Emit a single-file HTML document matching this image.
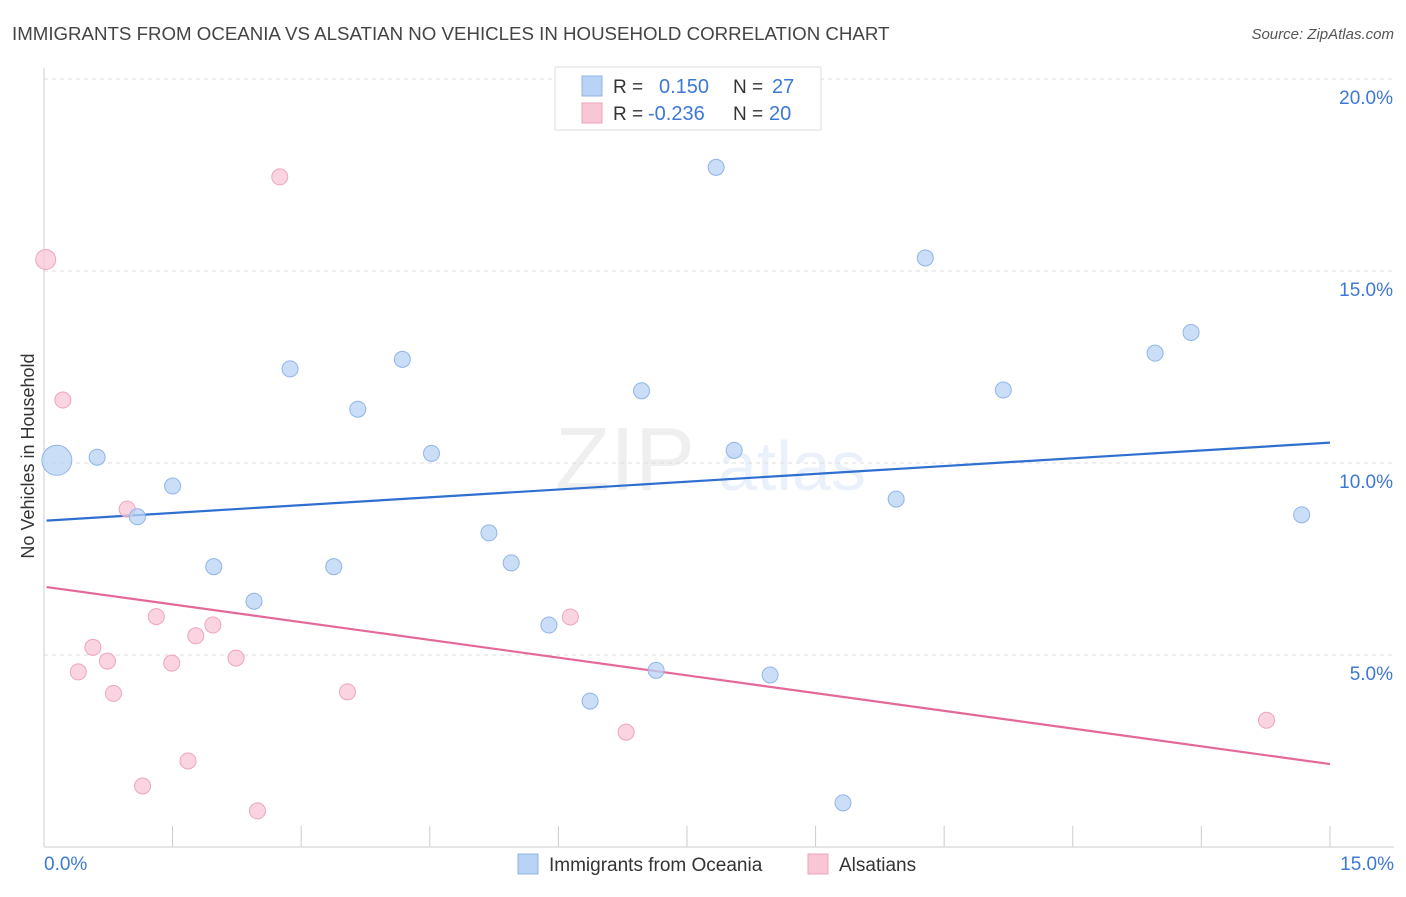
<!DOCTYPE html>
<html><head><meta charset="utf-8"><style>
body{margin:0;background:#fff;font-family:"Liberation Sans",sans-serif;}
svg text{font-family:"Liberation Sans",sans-serif;}
</style></head><body>
<svg id="chart" width="1406" height="892" viewBox="0 0 1406 892" xmlns="http://www.w3.org/2000/svg">
<text x="12" y="40" font-size="18.7" fill="#444">IMMIGRANTS FROM OCEANIA VS ALSATIAN NO VEHICLES IN HOUSEHOLD CORRELATION CHART</text>
<text x="1394" y="39" font-size="15" fill="#555" text-anchor="end" font-style="italic">Source: ZipAtlas.com</text>
<g opacity="0.13">
<text x="555" y="490" font-size="90" fill="#888" font-family="Liberation Serif">ZIP</text>
<text x="718" y="490" font-size="70" fill="#6a9be0">atlas</text>
</g>
<g id="grid"></g>
<g id="axes"></g>
<g id="lines"></g>
<g id="points"></g>
<text transform="translate(34,456) rotate(-90)" font-size="18" fill="#333" text-anchor="middle">No Vehicles in Household</text>
<g>
<rect x="555" y="67" width="266" height="63" fill="#fff" stroke="#ddd"/>
<rect x="582" y="76" width="20" height="20" fill="#b8d3f5" stroke="#8fb5e8"/>
<rect x="582" y="103" width="20" height="20" fill="#f8c6d5" stroke="#eea5bc"/>
<text x="613" y="93" font-size="19" fill="#333">R = </text><text x="659" y="93" font-size="20" fill="#3d78d6">0.150</text>
<text x="733" y="93" font-size="19" fill="#333">N = </text><text x="772" y="93" font-size="20" fill="#3d78d6">27</text>
<text x="613" y="120" font-size="19" fill="#333">R = </text><text x="648" y="120" font-size="20" fill="#3d78d6">-0.236</text>
<text x="733" y="120" font-size="19" fill="#333">N = </text><text x="769" y="120" font-size="20" fill="#3d78d6">20</text>
</g>
<g>
<rect x="518" y="854" width="20" height="20" fill="#b8d3f5" stroke="#8fb5e8"/>
<text x="549" y="871" font-size="19" fill="#333">Immigrants from Oceania</text>
<rect x="808" y="854" width="20" height="20" fill="#f8c6d5" stroke="#eea5bc"/>
<text x="839" y="871" font-size="19" fill="#333">Alsatians</text>
</g>
</svg>
<script>
const yTicks=[5,10,15,20];
const yTickLabels=["5.0%","10.0%","15.0%","20.0%"];
const xTickLabels=["0.0%","15.0%"];
const blueX=[0.15,0.62,1.09,1.5,1.98,2.45,2.87,3.38,3.66,4.18,4.52,5.19,5.45,5.89,6.37,6.97,7.14,8.05,7.84,8.47,9.32,9.94,10.28,11.19,12.96,13.38,14.67];
const blueY=[10.07,10.15,8.6,9.4,7.3,6.4,12.45,7.3,11.4,12.7,10.25,8.18,7.4,5.78,3.8,11.88,4.6,10.33,17.7,4.48,1.15,9.06,15.34,11.9,12.86,13.4,8.65];
const pinkX=[0.02,0.22,0.4,0.57,0.74,0.81,0.97,1.15,1.31,1.49,1.68,1.77,1.97,2.24,2.49,2.75,3.54,6.14,6.79,14.26];
const pinkY=[15.3,11.64,4.56,5.2,4.84,4.0,8.8,1.59,6.0,4.79,2.24,5.5,5.78,4.92,0.94,17.45,4.04,5.99,2.99,3.3];
const blueTrend=[8.5,10.53];
const pinkTrend=[6.77,2.16];
const NS="http://www.w3.org/2000/svg";
const sx=v=>44+v*85.73, sy=v=>847-v*38.4;
function mk(tag,attrs,parent){const e=document.createElementNS(NS,tag);for(const k in attrs)e.setAttribute(k,attrs[k]);parent.appendChild(e);return e;}
const grid=document.getElementById('grid'),axes=document.getElementById('axes'),lines=document.getElementById('lines'),pts=document.getElementById('points');
yTicks.forEach((t,i)=>{
 const l=mk('line',{x1:44,x2:1394,y1:sy(t),y2:sy(t),stroke:'#ddd','stroke-dasharray':'4,4'},grid);
 
 
 const tx=mk('text',{x:1393,y:sy(t)+25,'font-size':19,fill:'#3d78d6','text-anchor':'end'},axes);tx.textContent=yTickLabels[i];
 
 
});
mk('line',{x1:44,x2:44,y1:68,y2:847,stroke:'#ccc'},axes);
mk('line',{x1:44,x2:1394,y1:847,y2:847,stroke:'#ccc'},axes);
for(let i=0;i<=10;i++){const t=mk('line',{x1:sx(i*1.5),x2:sx(i*1.5),y1:826,y2:847,stroke:'#ccc'},axes);
 
 }
const xl0=mk('text',{x:44,y:870,'font-size':19,fill:'#3d78d6'},axes);xl0.textContent=xTickLabels[0];


const xl1=mk('text',{x:1394,y:870,'font-size':19,fill:'#3d78d6','text-anchor':'end'},axes);xl1.textContent=xTickLabels[1];


const bl=mk('line',{x1:sx(0.03),y1:sy(blueTrend[0]),x2:sx(15),y2:sy(blueTrend[1]),stroke:'#2f6fd0','stroke-width':2.2},lines);


const pl=mk('line',{x1:sx(0.03),y1:sy(pinkTrend[0]),x2:sx(15),y2:sy(pinkTrend[1]),stroke:'#e4689a','stroke-width':2.2},lines);


pinkX.forEach((x,i)=>{const c=mk('circle',{cx:sx(x),cy:sy(pinkY[i]),r:i==0?10:8,fill:'#f8c6d5','fill-opacity':0.75,stroke:'#eea5bc'},pts);
 
 });
blueX.forEach((x,i)=>{const c=mk('circle',{cx:sx(x),cy:sy(blueY[i]),r:i==0?15:8,fill:'#b8d3f5','fill-opacity':0.75,stroke:'#8fb5e8'},pts);
 
 });
</script>
</body></html>
